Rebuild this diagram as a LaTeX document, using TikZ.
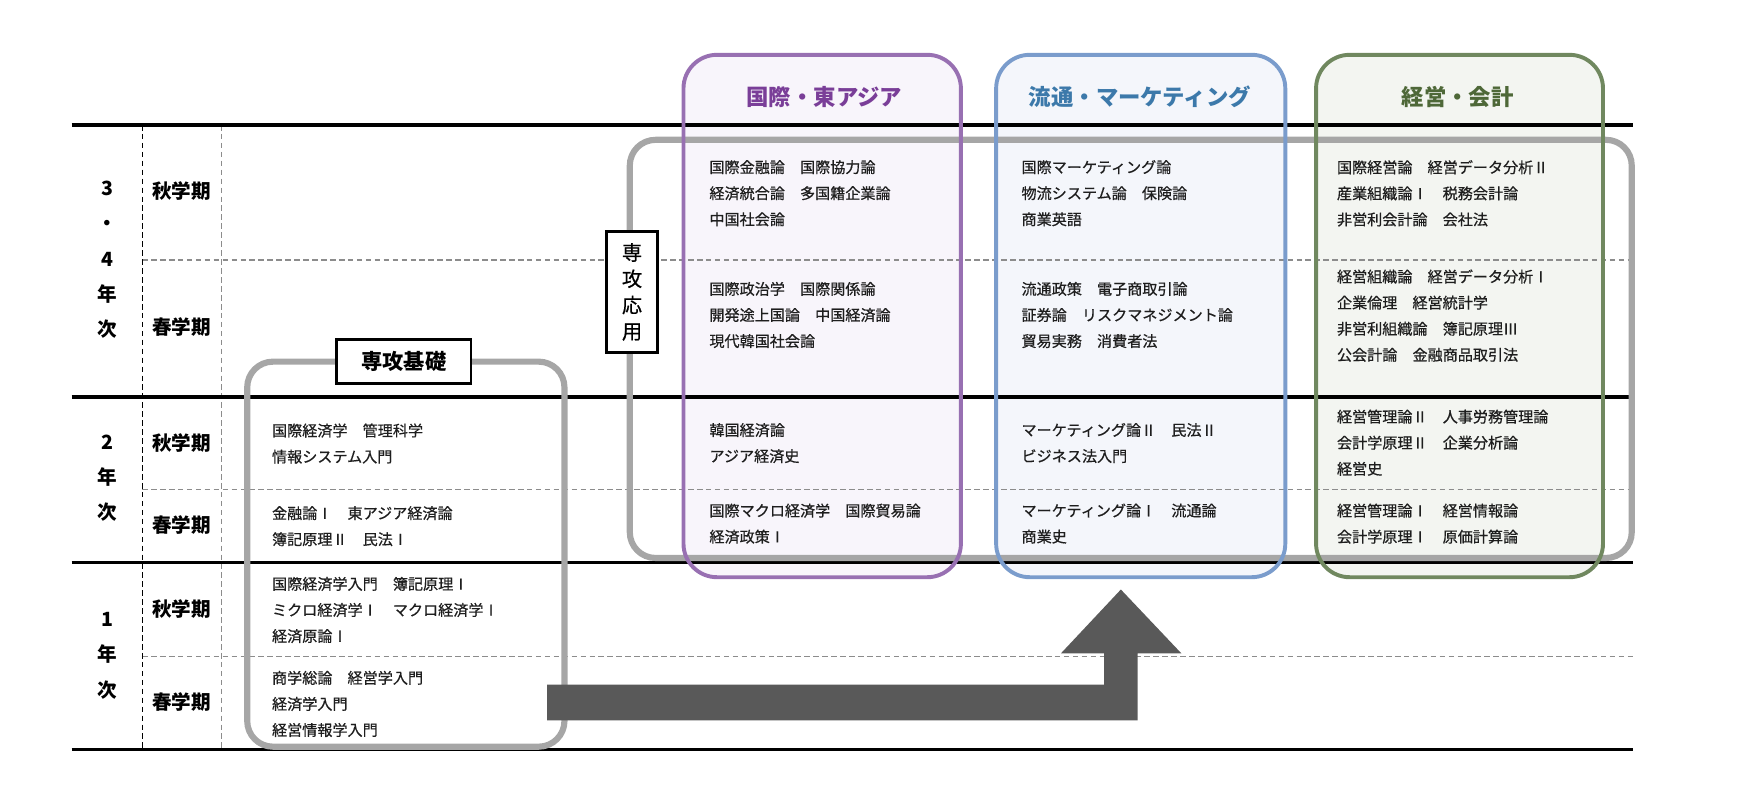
\documentclass[tikz,border=0pt]{standalone}
\usepackage{fontspec}
\setmainfont{Noto Sans CJK JP}
\newfontfamily\coursefont[FakeBold=0.6]{Noto Sans CJK JP}
\definecolor{pstroke}{RGB}{152,112,178}
\definecolor{ptext}{RGB}{122,62,152}
\definecolor{pfill}{RGB}{248,245,251}
\definecolor{bstroke}{RGB}{122,156,204}
\definecolor{btext}{RGB}{60,121,170}
\definecolor{bfill}{RGB}{244,246,251}
\definecolor{gstroke}{RGB}{112,136,95}
\definecolor{gtext}{RGB}{78,104,56}
\definecolor{gfill}{RGB}{243,245,241}
\definecolor{boxgray}{RGB}{166,166,166}
\definecolor{dashgray}{RGB}{140,140,140}
\definecolor{arrowgray}{RGB}{89,89,89}
\definecolor{coursetext}{RGB}{30,30,30}
\begin{document}
\begin{tikzpicture}[x=1pt,y=-1pt,
  tline/.style={line width=3pt,black},
  hdash/.style={line width=1.2pt,dashgray,dash pattern=on 5pt off 3pt},
  vdashk/.style={line width=1.3pt,black,dash pattern=on 5pt off 3pt},
  vdashg/.style={line width=1pt,dashgray,dash pattern=on 5pt off 3pt},
  graybox/.style={line width=5.5pt,boxgray,rounded corners=23pt},
  colbox/.style={line width=3.5pt,rounded corners=30pt},
  course/.style={anchor=north west,inner sep=0pt,align=left,text=coursetext,
    font=\coursefont\fontsize{13.5}{23.3}\selectfont},
  yearlab/.style={align=center,inner sep=0pt,font=\bfseries\fontsize{17.5}{31.6}\selectfont},
  semlab/.style={inner sep=0pt,font=\bfseries\fontsize{17.5}{20}\selectfont},
  coltitle/.style={inner sep=0pt,font=\bfseries\fontsize{20}{24}\selectfont},
  labelbox/.style={draw=black,line width=2.5pt,fill=white,inner sep=0pt}
]
\useasboundingbox (0,0) rectangle (1568,711);

% column box fills
\fill[pfill,rounded corners=30pt] (611,49) rectangle (859,516);
\fill[bfill,rounded corners=30pt] (890.5,49) rectangle (1149,516);
\fill[gfill,rounded corners=30pt] (1176.5,49) rectangle (1433,516);

% table lines
\draw[hdash] (127,232.4) -- (1460,232.4);
\draw[hdash] (127,437.4) -- (1460,437.4);
\draw[hdash] (127,587) -- (1460,587);
\draw[vdashg] (197.7,111.7) -- (197.7,670);
\draw[vdashk] (127.2,111.7) -- (127.2,670);
\draw[tline] (64,111.7) -- (1460,111.7);
\draw[tline] (64,355) -- (1460,355);
\draw[tline] (64,503) -- (1460,503);
\draw[tline] (64,670) -- (1460,670);

% gray grouping boxes
\draw[graybox] (221,323.3) rectangle (504.6,667.5);
\draw[graybox] (563,125) rectangle (1458.7,498.8);

% big arrow
\fill[arrowgray] (489,612) -- (987,612) -- (987,584) -- (948.5,584) -- (1002,527)
  -- (1056,584) -- (1017,584) -- (1017,644) -- (489,644) -- cycle;

% column box strokes
\draw[colbox,pstroke] (611,49) rectangle (859,516);
\draw[colbox,bstroke] (890.5,49) rectangle (1149,516);
\draw[colbox,gstroke] (1176.5,49) rectangle (1433,516);

% column titles
\node[coltitle,text=ptext] (t1) at (737,86.4) {国際・東アジア};
\node[coltitle,text=btext] (t2) at (1019,86.4) {流通・マーケティング};
\node[coltitle,text=gtext] (t3) at (1303,86.4) {経営・会計};

% group labels
\node[labelbox,minimum width=120pt,minimum height=39pt,font=\bfseries\fontsize{19}{22}\selectfont] (kiso) at (361,323.3) {専攻基礎};
\node[labelbox,minimum width=46pt,minimum height=108pt,align=center,font=\coursefont\fontsize{18}{23.5}\selectfont] (ouyou) at (565,261) {専\\攻\\応\\用};

% year labels
\node[yearlab] (y34) at (96,232.2) {3\\・\\4\\年\\次};
\node[yearlab] (y2) at (96,427.6) {2\\年\\次};
\node[yearlab] (y1) at (96,586) {1\\年\\次};

% semester labels
\node[semlab] (s34a) at (162.4,171) {秋学期};
\node[semlab] (s34s) at (162.4,292) {春学期};
\node[semlab] (s2a) at (162.4,395.7) {秋学期};
\node[semlab] (s2s) at (162.4,469.3) {春学期};
\node[semlab] (s1a) at (162.4,544.5) {秋学期};
\node[semlab] (s1s) at (162.4,627.3) {春学期};

% basic courses
\node[course] (l2a) at (243,378.4) {国際経済学　管理科学\\情報システム入門};
\node[course] (l2s) at (243,452.3) {金融論Ⅰ　東アジア経済論\\簿記原理Ⅱ　民法Ⅰ};
\node[course] (l1a) at (243,515.5) {国際経済学入門　簿記原理Ⅰ\\ミクロ経済学Ⅰ　マクロ経済学Ⅰ\\経済原論Ⅰ};
\node[course] (l1s) at (243,599.5) {商学総論　経営学入門\\経済学入門\\経営情報学入門};

% column 1
\node[course] (a34a) at (634,143) {国際金融論　国際協力論\\経済統合論　多国籍企業論\\中国社会論};
\node[course] (a34s) at (634,251.8) {国際政治学　国際関係論\\開発途上国論　中国経済論\\現代韓国社会論};
\node[course] (a2a) at (634,378) {韓国経済論\\アジア経済史};
\node[course] (a2s) at (634,450) {国際マクロ経済学　国際貿易論\\経済政策Ⅰ};

% column 2
\node[course] (b34a) at (913,143) {国際マーケティング論\\物流システム論　保険論\\商業英語};
\node[course] (b34s) at (913,251.8) {流通政策　電子商取引論\\証券論　リスクマネジメント論\\貿易実務　消費者法};
\node[course] (b2a) at (913,378) {マーケティング論Ⅱ　民法Ⅱ\\ビジネス法入門};
\node[course] (b2s) at (913,450) {マーケティング論Ⅰ　流通論\\商業史};

% column 3
\node[course] (c34a) at (1195,143) {国際経営論　経営データ分析Ⅱ\\産業組織論Ⅰ　税務会計論\\非営利会計論　会社法};
\node[course] (c34s) at (1195,240.7) {経営組織論　経営データ分析Ⅰ\\企業倫理　経営統計学\\非営利組織論　簿記原理Ⅲ\\公会計論　金融商品取引法};
\node[course] (c2a) at (1195,366) {経営管理論Ⅱ　人事労務管理論\\会計学原理Ⅱ　企業分析論\\経営史};
\node[course] (c2s) at (1195,450) {経営管理論Ⅰ　経営情報論\\会計学原理Ⅰ　原価計算論};
\end{tikzpicture}
\end{document}
